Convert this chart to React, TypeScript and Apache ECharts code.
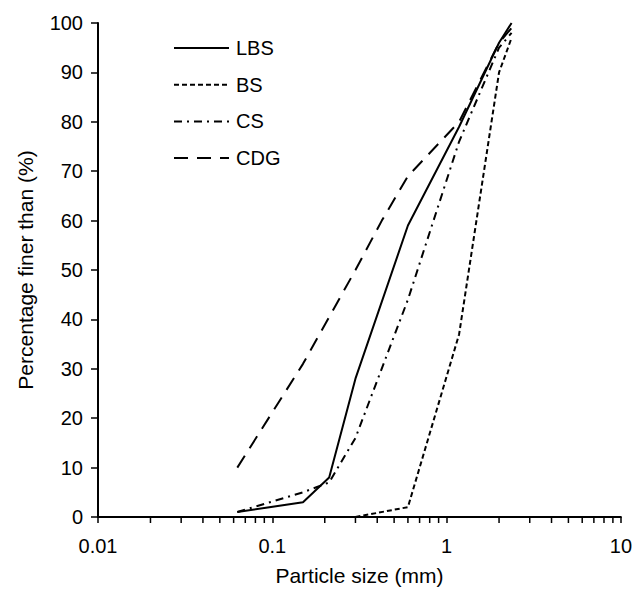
import React, { useEffect, useRef } from "react";
import * as echarts from "echarts";

// Particle size (mm) and percentage finer than (%)
const lbsSizes = [0.063, 0.15, 0.212, 0.3, 0.6, 1.18, 2, 2.36];
const lbsValues = [1, 3, 8, 28, 59, 79, 96, 100];

const bsSizes = [0.3, 0.6, 1.18, 2, 2.36];
const bsValues = [0, 2, 37, 90, 97];

const csSizes = [0.063, 0.15, 0.212, 0.3, 0.6, 1.18, 2, 2.36];
const csValues = [1, 5, 7, 16, 44, 76, 95, 98];

const cdgSizes = [0.063, 0.15, 0.3, 0.425, 0.6, 1.18, 2, 2.36];
const cdgValues = [10, 31, 50, 60, 69, 80, 96, 99];

const seriesNames = ["LBS", "BS", "CS", "CDG"];

// minor tick positions on the log axis
const minorTickValues = [
  0.02, 0.03, 0.04, 0.05, 0.06, 0.07, 0.08, 0.09,
  0.2, 0.3, 0.4, 0.5, 0.6, 0.7, 0.8, 0.9,
  2, 3, 4, 5, 6, 7, 8, 9,
];

const FONT = "Liberation Sans, Arial, sans-serif";

function pairs(xs: number[], ys: number[]) {
  return xs.map((x, i) => [x, ys[i]]);
}

export default function App() {
  const ref = useRef<HTMLDivElement>(null);
  useEffect(() => {
    if (!ref.current) return;
    const chart = echarts.init(ref.current, null, { renderer: "svg" });
    const lineBase = { type: "line", symbol: "none", showSymbol: false, smooth: false, z: 3 };
    chart.setOption({
      animation: false,
      backgroundColor: "#ffffff",
      grid: { left: 98, right: 13, top: 23, bottom: 71, containLabel: false },
      legend: {
        orient: "vertical",
        left: 173,
        top: 38,
        padding: 0,
        itemWidth: 55,
        itemHeight: 14,
        itemGap: 16.7,
        data: seriesNames,
        itemStyle: { opacity: 0 },
        textStyle: { fontFamily: FONT, fontSize: 20, color: "#000", padding: [0, 0, 0, 2] },
      },
      xAxis: {
        type: "log",
        logBase: 10,
        min: 0.01,
        max: 10,
        name: "Particle size (mm)",
        nameLocation: "middle",
        nameGap: 48,
        nameTextStyle: { fontFamily: FONT, fontSize: 21, color: "#000" },
        axisLine: { show: true, lineStyle: { color: "#000", width: 2 } },
        axisTick: { show: true, inside: false, length: 6, lineStyle: { color: "#000", width: 1.5 } },
        axisLabel: {
          fontFamily: FONT,
          fontSize: 20,
          color: "#000",
          margin: 19,
          formatter: (v: number) => String(v),
        },
        splitLine: { show: false },
        minorTick: { show: false },
      },
      yAxis: {
        type: "value",
        min: 0,
        max: 100,
        interval: 10,
        name: "Percentage finer than (%)",
        nameLocation: "middle",
        nameGap: 62,
        nameTextStyle: { fontFamily: FONT, fontSize: 21, color: "#000" },
        axisLine: { show: true, lineStyle: { color: "#000", width: 2 } },
        axisTick: { show: true, inside: false, length: 7, lineStyle: { color: "#000", width: 1.5 } },
        axisLabel: { fontFamily: FONT, fontSize: 20, color: "#000", margin: 15 },
        splitLine: { show: false },
      },
      series: [
        {
          ...lineBase,
          name: "LBS",
          data: pairs(lbsSizes, lbsValues),
          lineStyle: { color: "#000", width: 2, type: "solid" },
          itemStyle: { color: "#000" },
        },
        {
          ...lineBase,
          name: "BS",
          data: pairs(bsSizes, bsValues),
          lineStyle: { color: "#000", width: 2, type: [5, 3] },
          itemStyle: { color: "#000" },
        },
        {
          ...lineBase,
          name: "CS",
          data: pairs(csSizes, csValues),
          lineStyle: { color: "#000", width: 2, type: [8, 5, 2, 5] },
          itemStyle: { color: "#000" },
        },
        {
          ...lineBase,
          name: "CDG",
          data: pairs(cdgSizes, cdgValues),
          lineStyle: { color: "#000", width: 2, type: [14, 9] },
          itemStyle: { color: "#000" },
        },
        {
          type: "custom",
          name: "minorTicks",
          silent: true,
          clip: false,
          z: 5,
          data: minorTickValues.map((v) => [v, 0]),
          renderItem: (params: any, api: any) => {
            const p = api.coord([api.value(0), api.value(1)]);
            return {
              type: "line",
              shape: { x1: p[0], y1: p[1], x2: p[0], y2: p[1] + 6 },
              style: { stroke: "#000", lineWidth: 1.5 },
            };
          },
        },
      ],
    });
    return () => chart.dispose();
  }, []);
  return (
    <div
      ref={ref}
      style={{ position: "absolute", left: 0, top: 0, width: 635, height: 591 }}
    />
  );
}
